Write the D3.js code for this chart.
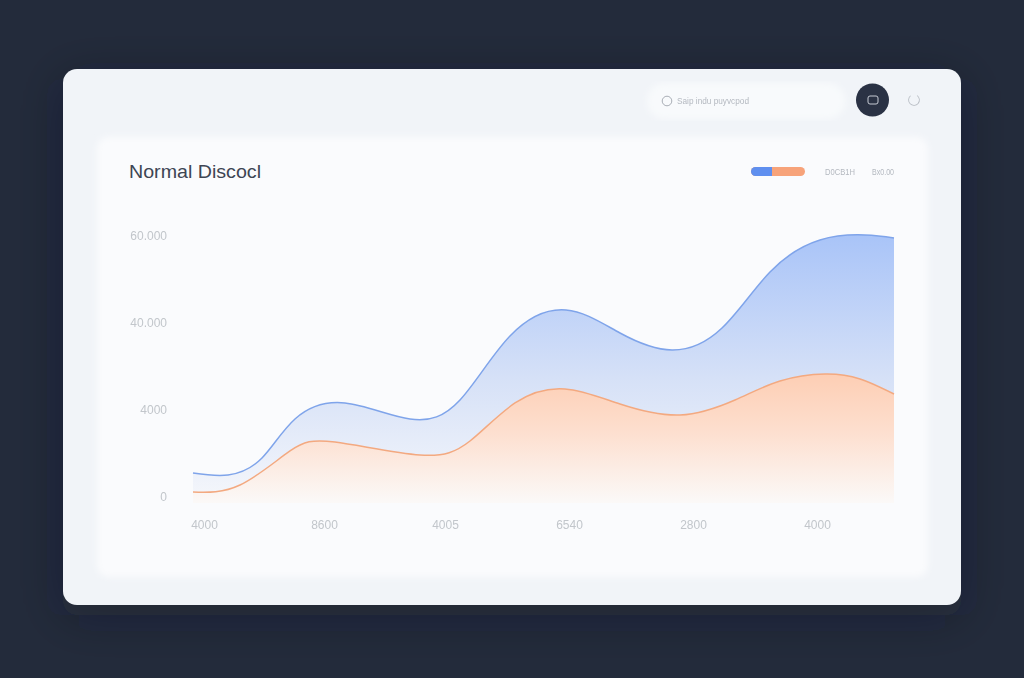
<!DOCTYPE html>
<html><head><meta charset="utf-8">
<script src="https://cdnjs.cloudflare.com/ajax/libs/d3/7.8.5/d3.min.js"></script>
<style>html,body{margin:0;padding:0;background:#232b3b;overflow:hidden}svg{display:block}
text{font-family:"Liberation Sans",Arial,sans-serif}</style></head><body>
<svg id="c" width="1024" height="678"></svg>
<script>
const titleText = "Normal Discocl";
const searchText = "Saip indu puyvcpod";
const legendLabels = ["D0CB1H", "Bx0.00"];
const yTicks = [0, 20000, 40000, 60000];
const yTickLabels = ["0", "4000", "40.000", "60.000"];
const xTicks = [11, 131, 252, 376, 500, 624];
const xTickLabels = ["4000", "8600", "4005", "6540", "2800", "4000"];
const blueX = [0,35,69,102,152,217,267,317,373,427,479,529,577,627,672,701];
const blueY = [5520,5060,8970,17930,21610,17930,22300,37010,42990,37700,33790,38850,51730,59080,60230,59540];
const orangeX = [0,47,97,142,227,277,322,372,427,487,542,587,632,667,701];
const orangeY = [1150,2760,10580,12640,9660,12870,21610,24830,21380,18850,22300,26670,28280,27130,23680];

const svg = d3.select("#c");
const defs = svg.append("defs");
function grad(id, stops, attrs){
  const g = defs.append("linearGradient").attr("id", id).attr("gradientUnits","userSpaceOnUse");
  Object.entries(attrs).forEach(([k,v])=>g.attr(k,v));
  stops.forEach(s=>g.append("stop").attr("offset",s[0]).attr("stop-color",s[1]));
}
grad("blueFill",[[0,"#a9c4f8"],[0.55,"#d6e1f7"],[1,"#f4f6fb"]],{x1:0,y1:235,x2:0,y2:497});
grad("orangeFill",[[0,"#fdceb4"],[0.45,"#fddfcf"],[1,"#fbf9f8"]],{x1:0,y1:374,x2:0,y2:503});
const sh = defs.append("filter").attr("id","shadow").attr("filterUnits","userSpaceOnUse").attr("x",-100).attr("y",-100).attr("width",1224).attr("height",878);
sh.append("feGaussianBlur").attr("stdDeviation",24);
const sh2 = defs.append("filter").attr("id","soft").attr("x","-5%").attr("y","-5%").attr("width","110%").attr("height","110%");
sh2.append("feGaussianBlur").attr("stdDeviation",3);
const tb = defs.append("filter").attr("id","tb");
tb.append("feGaussianBlur").attr("stdDeviation",0.35);

svg.append("rect").attr("width",1024).attr("height",678).attr("fill","#232b3b");
svg.append("rect").attr("x",63).attr("y",79).attr("width",898).attr("height",536).attr("rx",14).attr("fill","#141925").attr("fill-opacity",0.35).attr("filter","url(#shadow)");
svg.append("rect").attr("x",63).attr("y",69).attr("width",898).attr("height",536).attr("rx",14).attr("fill","#f1f4f8");
svg.append("rect").attr("x",97).attr("y",137).attr("width",831).attr("height",440).attr("rx",12).attr("fill","#fafbfd").attr("filter","url(#soft)");

// header controls
svg.append("rect").attr("x",647).attr("y",83).attr("width",198).attr("height",36).attr("rx",18).attr("fill","#f8fafc").attr("filter","url(#soft)");
svg.append("circle").attr("cx",667).attr("cy",101).attr("r",4.8).attr("fill","none").attr("stroke","#a9aeb6").attr("stroke-width",1);
svg.append("text").attr("x",677).attr("y",104).attr("font-size",9).attr("fill","#b4b9c0").attr("textLength",72).attr("lengthAdjust","spacingAndGlyphs").attr("filter","url(#tb)").text(searchText);
svg.append("circle").attr("cx",872.5).attr("cy",100).attr("r",16.5).attr("fill","#2a3244");
svg.append("rect").attr("x",868).attr("y",96).attr("width",10).attr("height",8).attr("rx",2).attr("fill","none").attr("stroke","#c5cad3").attr("stroke-width",1);
svg.append("path").attr("d",d3.arc()({innerRadius:5,outerRadius:5.8,startAngle:0.6,endAngle:5.6})).attr("transform","translate(914,100)").attr("fill","#b4b9c0");

// title + legend
svg.append("text").attr("x",129).attr("y",178).attr("font-size",18.5).attr("fill","#3d4553").attr("textLength",132).attr("lengthAdjust","spacingAndGlyphs").text(titleText);
svg.append("rect").attr("x",751).attr("y",167).attr("width",54).attr("height",9).attr("rx",4.5).attr("fill","#f7a37a");
svg.append("path").attr("d","M772 167H755.5a4.5 4.5 0 0 0 0 9H772Z").attr("fill","#5f8fef");
svg.append("text").attr("x",825).attr("y",175).attr("font-size",9.5).attr("fill","#b4b9c0").attr("textLength",30).attr("lengthAdjust","spacingAndGlyphs").attr("filter","url(#tb)").text(legendLabels[0]);
svg.append("text").attr("x",872).attr("y",175).attr("font-size",9.5).attr("fill","#b4b9c0").attr("textLength",22).attr("lengthAdjust","spacingAndGlyphs").attr("filter","url(#tb)").text(legendLabels[1]);

// scales
const x = d3.scaleLinear().domain([0,701]).range([193,894]);
const y = d3.scaleLinear().domain([0,60000]).range([497,236]);
const curve = d3.curveNatural;
const blue = blueX.map((d,i)=>[d,blueY[i]]);
const orange = orangeX.map((d,i)=>[d,orangeY[i]]);
const area = d3.area().x(d=>x(d[0])).y1(d=>y(d[1])).y0(y(-1400)).curve(curve);
const line = d3.line().x(d=>x(d[0])).y(d=>y(d[1])).curve(curve);

svg.append("path").datum(blue).attr("d",area).attr("fill","url(#blueFill)");
svg.append("path").datum(orange).attr("d",area).attr("fill","url(#orangeFill)");
svg.append("path").datum(blue).attr("d",line).attr("fill","none").attr("stroke","#7fa4ea").attr("stroke-width",1.5);
svg.append("path").datum(orange).attr("d",line).attr("fill","none").attr("stroke","#f3a980").attr("stroke-width",1.5);

// axes
const yAxis = d3.axisLeft(y).tickValues(yTicks).tickSize(0).tickPadding(0).tickFormat((d,i)=>yTickLabels[i]);
const gy = svg.append("g").attr("transform","translate(167,0)").attr("filter","url(#tb)").call(yAxis);
const xAxis = d3.axisBottom(x).tickValues(xTicks).tickSize(0).tickPadding(0).tickFormat((d,i)=>xTickLabels[i]);
const gx = svg.append("g").attr("transform","translate(0,520)").attr("filter","url(#tb)").call(xAxis);
[gy,gx].forEach(g=>{
  g.select(".domain").remove();
  g.selectAll("text").attr("font-size",12).attr("fill","#c2c6cb").style("font-family","'Liberation Sans',Arial,sans-serif");
});
</script></body></html>
